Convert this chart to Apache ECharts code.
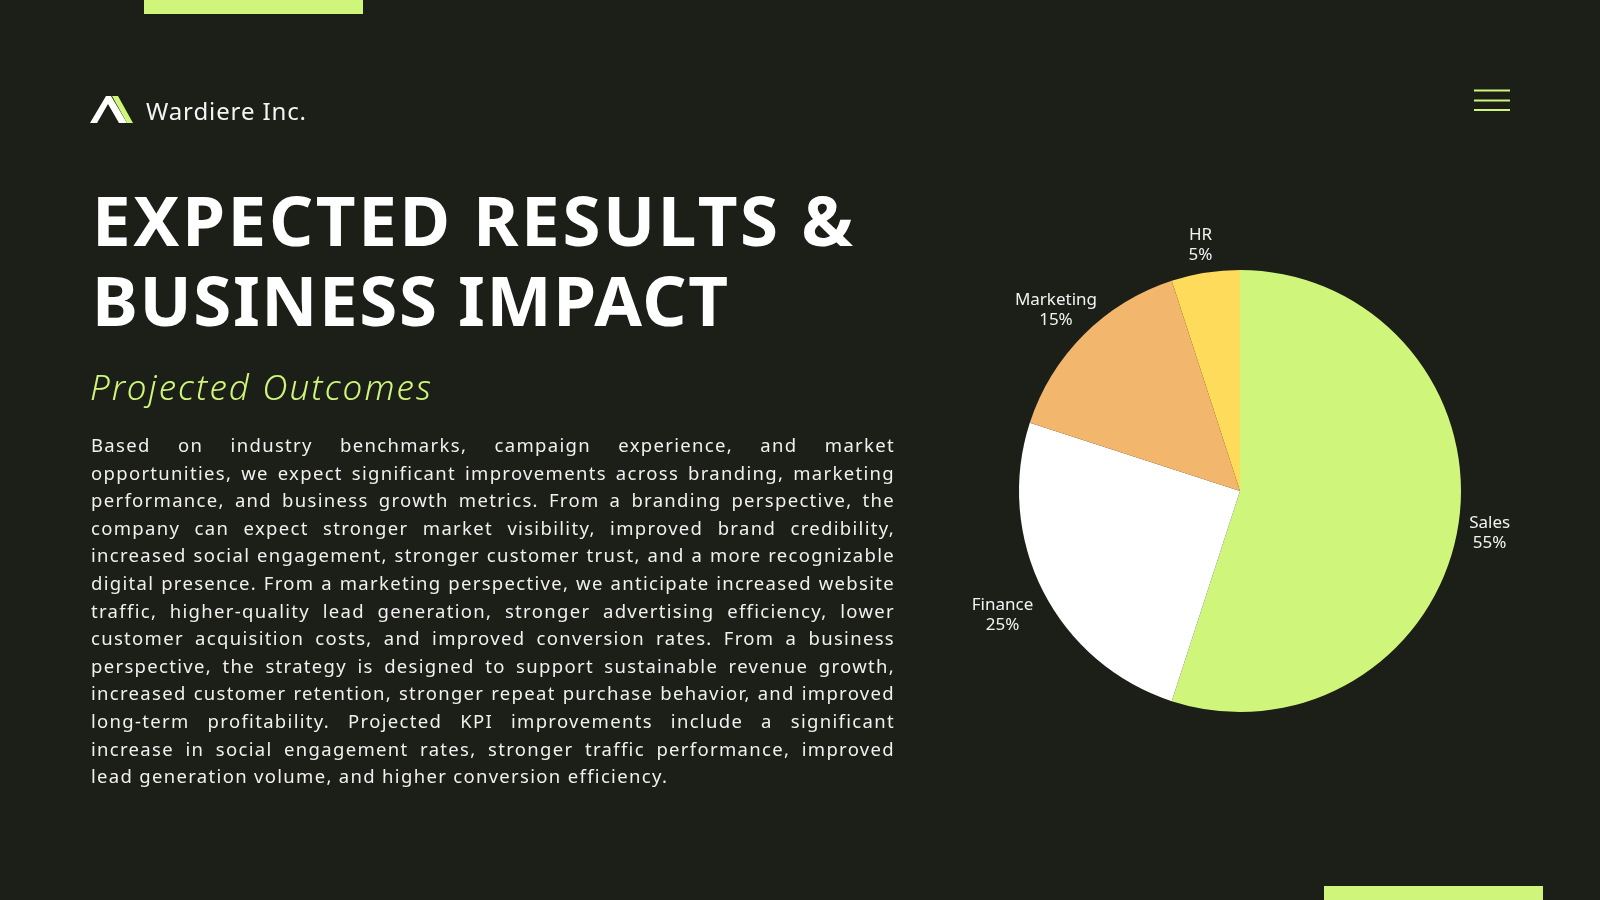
<!DOCTYPE html>
<html>
<head>
<meta charset="utf-8">
<script src="https://cdn.jsdelivr.net/npm/echarts@6/dist/echarts.min.js"></script>
<style>
html,body{margin:0;padding:0;background:#1c1e18;width:1600px;height:900px;overflow:hidden;}
#chart{position:absolute;left:0;top:0;width:1600px;height:900px;}
.t{position:absolute;white-space:nowrap;font-family:"Noto Sans","Open Sans",sans-serif;color:#ffffff;margin:0;}
#brand{left:146px;top:99px;font-size:24px;line-height:24px;color:#f4f4f4;}
.title{left:92px;font-size:69px;line-height:80px;font-weight:700;}
#t1{top:179px;}
#t2{top:259px;}
#sub{left:90px;top:370px;font-size:35px;line-height:33px;font-style:italic;font-weight:300;color:#cff67a;}
#para{position:absolute;left:91px;top:431px;width:804px;font-family:"Noto Sans","Open Sans",sans-serif;font-size:18.5px;line-height:27.6px;color:#f0f0f0;}
#para div{white-space:nowrap;text-align:justify;text-align-last:justify;}
#para div.last{text-align-last:left;}
#meas{position:absolute;left:-3000px;top:0;white-space:nowrap;font-family:"Noto Sans","Open Sans",sans-serif;font-size:18.5px;}
</style>
</head>
<body>
<div id="chart"></div>
<div id="brand" class="t" data-w="160">Wardiere Inc.</div>
<div id="t1" class="t title" data-w="761">EXPECTED RESULTS &amp;</div>
<div id="t2" class="t title" data-w="636">BUSINESS IMPACT</div>
<div id="sub" class="t" data-w="341">Projected Outcomes</div>
<div id="para"></div>
<span id="meas"></span>
<script>
// ---- data ----
const categories = ['Sales', 'Finance', 'Marketing', 'HR'];
const shares = [55, 25, 15, 5];
const sliceColors = ['#cff67a', '#ffffff', '#f2b76c', '#fedb5a'];

const paragraphLines = [
  'Based on industry benchmarks, campaign experience, and market',
  'opportunities, we expect significant improvements across branding, marketing',
  'performance, and business growth metrics. From a branding perspective, the',
  'company can expect stronger market visibility, improved brand credibility,',
  'increased social engagement, stronger customer trust, and a more recognizable',
  'digital presence. From a marketing perspective, we anticipate increased website',
  'traffic, higher-quality lead generation, stronger advertising efficiency, lower',
  'customer acquisition costs, and improved conversion rates. From a business',
  'perspective, the strategy is designed to support sustainable revenue growth,',
  'increased customer retention, stronger repeat purchase behavior, and improved',
  'long-term profitability. Projected KPI improvements include a significant',
  'increase in social engagement rates, stronger traffic performance, improved',
  'lead generation volume, and higher conversion efficiency.'
];

// ---- text layout ----
const para = document.getElementById('para');
const meas = document.getElementById('meas');
let ls = 10;
paragraphLines.forEach(ln => {
  meas.textContent = ln;
  const w = meas.getBoundingClientRect().width;
  ls = Math.min(ls, (798 - w) / ln.length);
});
para.style.letterSpacing = Math.max(0, ls).toFixed(3) + 'px';
paragraphLines.forEach((ln, i) => {
  const d = document.createElement('div');
  d.textContent = ln;
  if (i === paragraphLines.length - 1) d.className = 'last';
  para.appendChild(d);
});
document.querySelectorAll('[data-w]').forEach(el => {
  const target = parseFloat(el.getAttribute('data-w'));
  const w = el.getBoundingClientRect().width;
  const n = el.textContent.length;
  if (n > 1) el.style.letterSpacing = ((target - w) / (n - 1)).toFixed(2) + 'px';
});

// ---- chart ----
const PIE_CX = 1240, PIE_CY = 491, PIE_R = 221, LABEL_GAP = 11, LABEL_DY = 3;
const chart = echarts.init(document.getElementById('chart'), null, {renderer: 'canvas'});
const pieData = categories.map((c, i) => ({name: c, value: shares[i], itemStyle: {color: sliceColors[i]}}));
const labelData = categories.map((c, i) => ({name: c, value: shares[i]}));

const option = {
  backgroundColor: '#1c1e18',
  animation: false,
  graphic: [
    {type: 'rect', shape: {x: 144, y: 0, width: 219, height: 14}, style: {fill: '#cff67a'}, silent: true},
    {type: 'rect', shape: {x: 1324, y: 886, width: 219, height: 14}, style: {fill: '#cff67a'}, silent: true},
    {type: 'rect', shape: {x: 1474, y: 89.5, width: 36, height: 2}, style: {fill: '#cff67a'}, silent: true},
    {type: 'rect', shape: {x: 1474, y: 99.5, width: 36, height: 2}, style: {fill: '#cff67a'}, silent: true},
    {type: 'rect', shape: {x: 1474, y: 109, width: 36, height: 2}, style: {fill: '#cff67a'}, silent: true},
    {type: 'polygon', shape: {points: [[90, 123], [106, 96], [111, 96], [127, 123], [119, 123], [108, 104], [97, 123]]}, style: {fill: '#ffffff'}, silent: true},
    {type: 'polygon', shape: {points: [[112, 96], [118, 96], [133, 123], [127, 123]]}, style: {fill: '#cff67a'}, silent: true}
  ],
  series: [
    {
      type: 'pie',
      center: [PIE_CX, PIE_CY],
      radius: PIE_R,
      startAngle: 90,
      clockwise: true,
      silent: true,
      label: {show: false},
      labelLine: {show: false},
      itemStyle: {borderWidth: 0},
      emphasis: {disabled: true},
      data: pieData
    },
    {
      type: 'pie',
      center: [PIE_CX, PIE_CY],
      radius: [PIE_R, 288],
      startAngle: 90,
      clockwise: true,
      silent: true,
      itemStyle: {color: 'rgba(0,0,0,0)', borderWidth: 0},
      emphasis: {disabled: true},
      labelLine: {show: false},
      label: {
        show: true,
        position: 'inside',
        formatter: '{b}\n{d}%',
        color: '#f2f2f2',
        fontSize: 17,
        lineHeight: 20,
        fontFamily: '"Noto Sans", sans-serif',
        align: 'center'
      },
      // place each label just outside the slice edge (outside-end style)
      labelLayout: function (p) {
        const r = p.labelRect;
        const lx = r.x + r.width / 2, ly = r.y + r.height / 2;
        let dx = lx - PIE_CX, dy = ly - PIE_CY;
        const len = Math.hypot(dx, dy) || 1;
        dx /= len; dy /= len;
        const hw = r.width / 2, hh = r.height / 2;
        const t = Math.min(hw / Math.max(Math.abs(dx), 1e-6), hh / Math.max(Math.abs(dy), 1e-6));
        const d = PIE_R + LABEL_GAP + t;
        return {x: PIE_CX + dx * d, y: PIE_CY + dy * d + LABEL_DY, align: 'center', verticalAlign: 'middle'};
      },
      data: labelData
    }
  ]
};
chart.setOption(option);
</script>
</body>
</html>
